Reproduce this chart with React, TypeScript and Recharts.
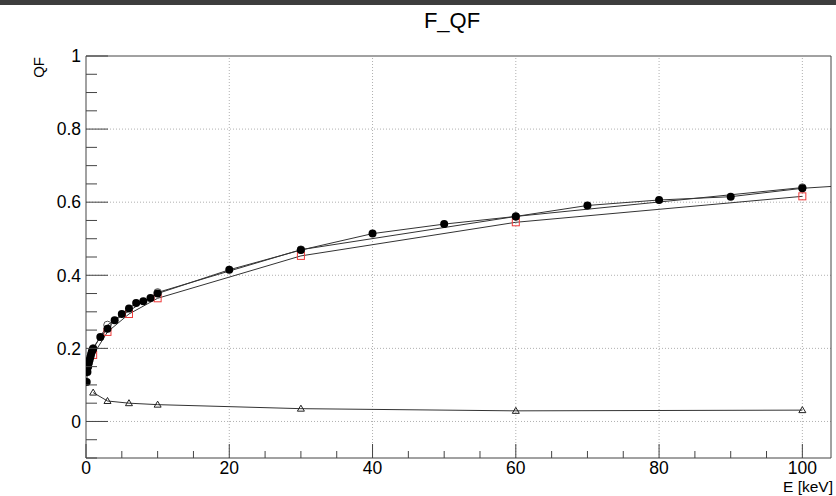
import { ScatterChart, Scatter, XAxis, YAxis, ReferenceLine } from "recharts";

// energies [keV] and quenching factors
const dotE = [0.1, 0.2, 0.3, 0.4, 0.5, 0.6, 0.7, 0.8, 0.9, 1, 2, 3, 4, 5, 6, 7, 8, 9, 10, 20, 30, 40, 50, 60, 70, 80, 90, 100];
const dotQF = [0.108, 0.135, 0.15, 0.16, 0.168, 0.176, 0.183, 0.19, 0.195, 0.199, 0.231, 0.254, 0.277, 0.294, 0.309, 0.324, 0.329, 0.338, 0.35, 0.415, 0.469, 0.514, 0.54, 0.561, 0.591, 0.606, 0.615, 0.638];

const openE = [1, 3, 10, 30, 60, 100];
const openQF = [0.2, 0.264, 0.353, 0.47, 0.561, 0.64];

const squareE = [1, 3, 6, 10, 30, 60, 100];
const squareQF = [0.182, 0.245, 0.294, 0.337, 0.453, 0.545, 0.616];

const triE = [1, 3, 6, 10, 30, 60, 100];
const triQF = [0.079, 0.056, 0.05, 0.046, 0.035, 0.029, 0.031];

const tailE = [100, 104];
const tailQF = [0.638, 0.643];

const xTicks = [0, 5, 10, 15, 20, 25, 30, 35, 40, 45, 50, 55, 60, 65, 70, 75, 80, 85, 90, 95, 100];
const yTicks = [-0.1, -0.05, 0, 0.05, 0.1, 0.15, 0.2, 0.25, 0.3, 0.35, 0.4, 0.45, 0.5, 0.55, 0.6, 0.65, 0.7, 0.75, 0.8, 0.85, 0.9, 0.95, 1];
const xGrid = [20, 40, 60, 80, 100];
const yGrid = [0, 0.2, 0.4, 0.6, 0.8];

const FONT = "'Liberation Sans', Arial, Helvetica, sans-serif";

const pts = (es: number[], qs: number[]) => es.map((e, i) => ({ e, qf: qs[i] }));

const isMajor = (v: number, step: number) => Math.abs(v / step - Math.round(v / step)) < 1e-6;

const YTick = (props: any) => {
  const { x, y, payload } = props;
  const v = payload.value as number;
  const major = isMajor(v, 0.2);
  return (
    <g>
      <line x1={x} x2={x + (major ? 22 : 11)} y1={y} y2={y} stroke="#444" />
      {major && (
        <text x={x - 5} y={y} dy="0.36em" textAnchor="end" fontSize={17.5} fontFamily={FONT} fill="#000">
          {Math.abs(v) < 1e-9 ? "0" : String(Number(v.toFixed(1)))}
        </text>
      )}
    </g>
  );
};

const XTick = (props: any) => {
  const { x, y, payload } = props;
  const v = payload.value as number;
  const major = isMajor(v, 20);
  return (
    <g>
      <line x1={x} x2={x} y1={y} y2={y - (major ? 14 : 7)} stroke="#444" />
      {major && (
        <text x={x} y={y + 3} dy="0.72em" textAnchor="middle" fontSize={17.5} fontFamily={FONT} fill="#000">
          {v}
        </text>
      )}
    </g>
  );
};

const Dot = (p: any) => <circle cx={p.cx} cy={p.cy} r={4} fill="#000" />;
const OpenDot = (p: any) => <circle cx={p.cx} cy={p.cy} r={3.8} fill="none" stroke="#555" />;
const Square = (p: any) => (
  <rect x={p.cx - 3.5} y={p.cy - 3.5} width={7} height={7} fill="none" stroke="#ee3b3b" />
);
const Triangle = (p: any) => (
  <polygon
    points={`${p.cx},${p.cy - 3.5} ${p.cx - 3.5},${p.cy + 2.5} ${p.cx + 3.5},${p.cy + 2.5}`}
    fill="none"
    stroke="#222"
  />
);
const NoMark = () => <g />;

const lineStyle = { stroke: "#333", strokeWidth: 1 };

export default function App() {
  return (
    <div style={{ position: "absolute", left: 0, top: 0, width: 836, height: 496, background: "#fff", fontFamily: FONT }}>
      <div style={{ position: "absolute", left: 0, top: 0, width: 836, height: 5, background: "#3d3d3d" }} />
      <ScatterChart width={836} height={496} margin={{ top: 56, right: 5, bottom: 0, left: 0 }}>
        <XAxis
          type="number"
          dataKey="e"
          domain={[0, 104]}
          allowDataOverflow
          ticks={xTicks}
          interval={0}
          tick={<XTick />}
          tickLine={false}
          tickSize={0}
          tickMargin={0}
          height={38}
          axisLine={{ stroke: "#444" }}
        />
        <YAxis
          type="number"
          dataKey="qf"
          domain={[-0.1, 1]}
          allowDataOverflow
          ticks={yTicks}
          interval={0}
          tick={<YTick />}
          tickLine={false}
          tickSize={0}
          tickMargin={0}
          width={86}
          axisLine={{ stroke: "#444" }}
        />
        {yGrid.map((v) => (
          <ReferenceLine key={"y" + v} y={v} stroke="#b0b0b0" strokeDasharray="1 2" />
        ))}
        {xGrid.map((v) => (
          <ReferenceLine key={"x" + v} x={v} stroke="#b0b0b0" strokeDasharray="1 2" />
        ))}
        <ReferenceLine y={1} stroke="#444" />
        <ReferenceLine x={104} stroke="#444" />
        <Scatter data={pts(triE, triQF)} line={lineStyle} lineType="joint" shape={Triangle} isAnimationActive={false} />
        <Scatter data={pts(openE, openQF)} line={lineStyle} lineType="joint" shape={OpenDot} isAnimationActive={false} />
        <Scatter data={pts(squareE, squareQF)} line={lineStyle} lineType="joint" shape={Square} isAnimationActive={false} />
        <Scatter data={pts(tailE, tailQF)} line={lineStyle} lineType="joint" shape={NoMark} isAnimationActive={false} />
        <Scatter data={pts(dotE, dotQF)} line={lineStyle} lineType="joint" shape={Dot} isAnimationActive={false} />
      </ScatterChart>
      <svg width={836} height={496} style={{ position: "absolute", left: 0, top: 0, pointerEvents: "none" }}>
        <text x={452} y={28} textAnchor="middle" fontSize={22} fontFamily={FONT} fill="#000">
          F_QF
        </text>
        <text transform="translate(44,57) rotate(-90)" textAnchor="end" fontSize={15} fontFamily={FONT} fill="#000">
          QF
        </text>
        <text x={833} y={492} textAnchor="end" fontSize={15.5} fontFamily={FONT} fill="#000">
          E [keV]
        </text>
      </svg>
    </div>
  );
}
